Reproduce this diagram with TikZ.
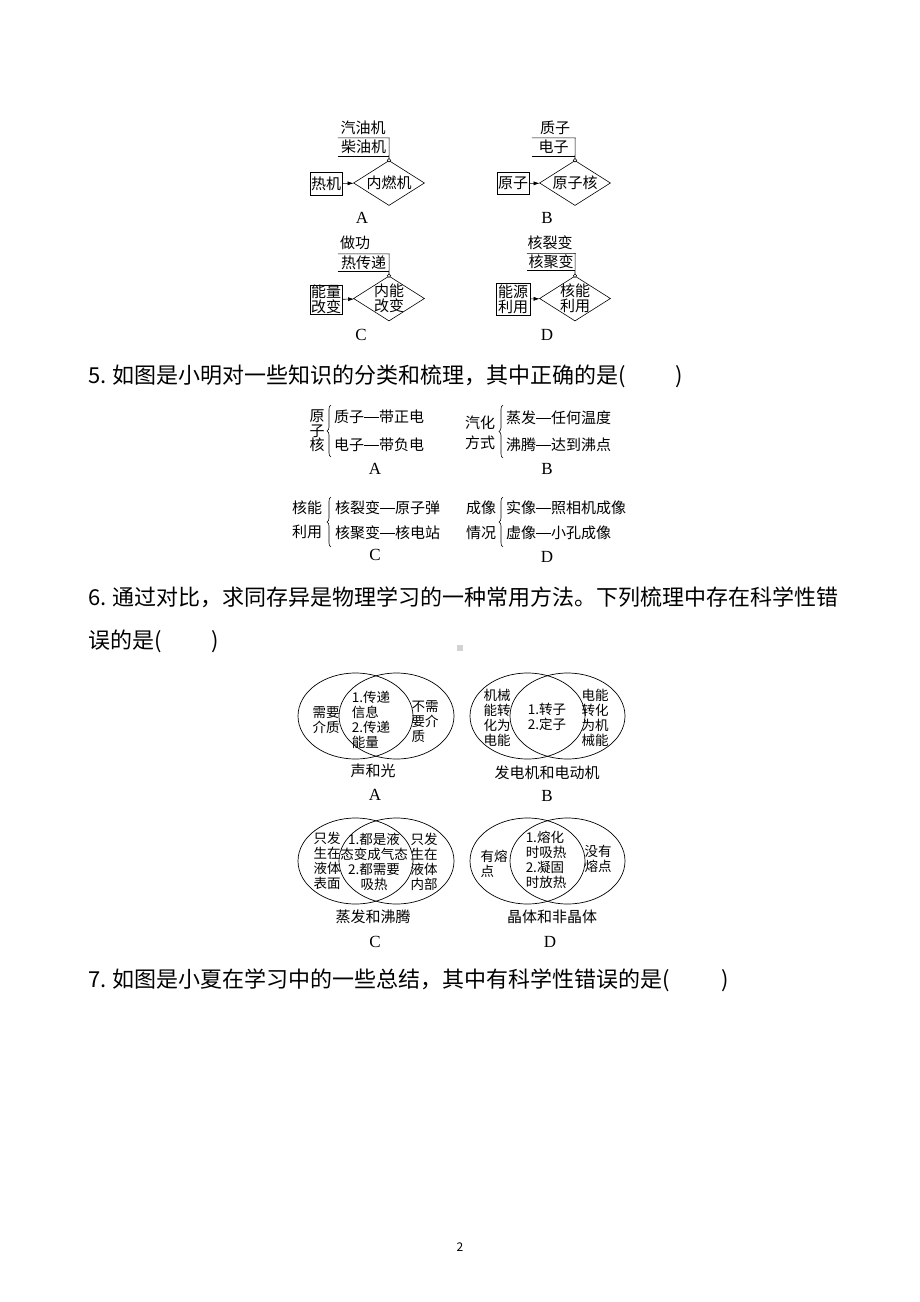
\documentclass[tikz,border=0pt]{standalone}
\usepackage{fontspec}
\setmainfont{Liberation Serif}
\newfontfamily\cjk{Noto Sans CJK SC}
\usepackage{tikz}
\usetikzlibrary{shapes,shapes.geometric}
\usetikzlibrary{decorations.pathreplacing}
\usetikzlibrary{arrows.meta}
\newcommand{\dashbar}{\rule[0.33em]{1em}{0.5pt}}

\begin{document}
\begin{tikzpicture}[x=1pt,y=-1pt,
	qtext/.style={anchor=west,inner sep=0,font=\cjk\fontsize{22}{22}\selectfont},
	small/.style={inner sep=0,align=center,font=\cjk\fontsize{15}{15}\selectfont},
	item/.style={anchor=west,inner sep=0,font=\cjk\fontsize{15}{15}\selectfont},
	vtext/.style={inner sep=0,font=\cjk\fontsize{13.5}{15}\selectfont},
	capt/.style={inner sep=0,font=\cjk\fontsize{15}{15}\selectfont},
	tag/.style={inner sep=0,font=\fontsize{17}{17}\selectfont},
	lbox/.style={draw,inner sep=0,line width=0.6pt,align=center,font=\cjk\fontsize{15}{15}\selectfont},
	dia/.style={draw,diamond,inner sep=0,minimum width=71,minimum height=45,line width=0.6pt},
	venn/.style={draw,ellipse,inner sep=0,minimum width=115,minimum height=86,line width=0.7pt},
	arr/.style={line width=0.6pt,-{Latex[length=6pt,width=4pt]}},
	brc/.style={decorate,decoration={brace,amplitude=4pt},line width=0.6pt}]
	\useasboundingbox (0,0) rectangle (920,1302);

	% top diagrams
	\node[small] (tA1) at (363,128) {汽油机};
	\node[small,minimum width=51,minimum height=18] (tA2) at (363.5,147) {柴油机};
	\node[dia] (dA) at (389,183) {};
	\node[small] (dAt) at (dA) {内燃机};
	\node[lbox,minimum width=32,minimum height=23] (bA) at (326,183.5) {热机};
	\draw[line width=0.6pt] (tA2.north west) -- (tA2.north east) -- (dA.north);
	\draw[line width=0.6pt] (tA2.south west) -- (tA2.south east);
	\draw[fill=white,line width=0.5pt] (dA.north) circle (1.8);
	\draw[arr] (bA) -- (dA);
	\node[tag] (cA) at (362,218) {A};

	\node[small] (tB1) at (555,128) {质子};
	\node[small,minimum width=43,minimum height=18] (tB2) at (553.5,147) {电子};
	\node[dia] (dB) at (575,183) {};
	\node[small] (dBt) at (dB) {原子核};
	\node[lbox,minimum width=32,minimum height=22] (bB) at (513,183.5) {原子};
	\draw[line width=0.6pt] (tB2.north west) -- (tB2.north east) -- (dB.north);
	\draw[line width=0.6pt] (tB2.south west) -- (tB2.south east);
	\draw[fill=white,line width=0.5pt] (dB.north) circle (1.8);
	\draw[arr] (bB) -- (dB);
	\node[tag] (cB) at (547,218) {B};

	\node[small] (tC1) at (355,243) {做功};
	\node[small,minimum width=51,minimum height=17] (tC2) at (363.5,262.5) {热传递};
	\node[dia] (dC) at (389,298.5) {};
	\node[small] (dCt) at (dC) {内能\\改变};
	\node[lbox,minimum width=32,minimum height=29] (bC) at (326,299.5) {能量\\改变};
	\draw[line width=0.6pt] (tC2.north west) -- (tC2.north east) -- (dC.north);
	\draw[line width=0.6pt] (tC2.south west) -- (tC2.south east);
	\draw[fill=white,line width=0.5pt] (dC.north) circle (1.8);
	\draw[arr] (bC) -- (dC);
	\node[tag] (cC) at (361,335) {C};

	\node[small] (tD1) at (550,243) {核裂变};
	\node[small,minimum width=48,minimum height=17] (tD2) at (551,262) {核聚变};
	\node[dia] (dD) at (575,298.5) {};
	\node[small] (dDt) at (dD) {核能\\利用};
	\node[lbox,minimum width=34,minimum height=32] (bD) at (513,299) {能源\\利用};
	\draw[line width=0.6pt] (tD2.north west) -- (tD2.north east) -- (dD.north);
	\draw[line width=0.6pt] (tD2.south west) -- (tD2.south east);
	\draw[fill=white,line width=0.5pt] (dD.north) circle (1.8);
	\draw[arr] (bD) -- (dD);
	\node[tag] (cD) at (547,335) {D};

	\node[qtext] (q5) at (88,376) {5.\hspace{6pt}如图是小明对一些知识的分类和梳理，其中正确的是(\hspace{50pt})};

	% braces
	\node[small,font=\cjk\fontsize{15}{14.5}\selectfont] (lA) at (317,431) {原\\子\\核};
	\node[item] (iA1) at (334,417) {质子\dashbar 带正电};
	\node[item] (iA2) at (334,445) {电子\dashbar 带负电};
	\draw[brc] (331,457) -- (331,405);
	\node[tag] (kA) at (375,469) {A};

	\node[small,font=\cjk\fontsize{15}{20}\selectfont] (lB) at (480,433) {汽化\\方式};
	\node[item] (iB1) at (506,418) {蒸发\dashbar 任何温度};
	\node[item] (iB2) at (506,445) {沸腾\dashbar 达到沸点};
	\draw[brc] (503,458) -- (503,405);
	\node[tag] (kB) at (547,469) {B};

	\node[small,font=\cjk\fontsize{15}{24}\selectfont] (lC) at (307,520) {核能\\利用};
	\node[item] (iC1) at (335,508) {核裂变\dashbar 原子弹};
	\node[item] (iC2) at (335,533) {核聚变\dashbar 核电站};
	\draw[brc] (331,547) -- (331,497);
	\node[tag] (kC) at (375,555) {C};

	\node[small,font=\cjk\fontsize{15}{25}\selectfont] (lD) at (481,520) {成像\\情况};
	\node[item] (iD1) at (506,508) {实像\dashbar 照相机成像};
	\node[item] (iD2) at (506,533) {虚像\dashbar 小孔成像};
	\draw[brc] (503,547) -- (503,497);
	\node[tag] (kD) at (547,557) {D};

	\node[qtext] (q6a) at (88,597) {6.\hspace{6pt}通过对比，求同存异是物理学习的一种常用方法。下列梳理中存在科学性错};
	\node[qtext] (q6b) at (88,641) {误的是(\hspace{50pt})};
	\fill[gray!35] (457,645) rectangle (463,651);

	% venn
	\node[venn] (vAl) at (355.5,716) {};
	\node[venn] (vAr) at (396.5,716) {};
	\node[vtext,align=center] (vA1) at (326,720) {需要\\介质};
	\node[vtext,align=left] (vA2) at (371,720) {1.传递\\信息\\2.传递\\能量};
	\node[vtext,align=left] (vA3) at (425,722) {不需\\要介\\质};
	\node[capt] (nA) at (373,771) {声和光};
	\node[tag] (mA) at (375,795) {A};

	\node[venn] (vBl) at (527.5,716) {};
	\node[venn] (vBr) at (567.5,716) {};
	\node[vtext,align=center] (vB1) at (497,718) {机械\\能转\\化为\\电能};
	\node[vtext,align=left] (vB2) at (547,717) {1.转子\\2.定子};
	\node[vtext,align=center] (vB3) at (595,718) {电能\\转化\\为机\\械能};
	\node[capt] (nB) at (547,773) {发电机和电动机};
	\node[tag] (mB) at (547,796) {B};

	\node[venn] (vCl) at (355.5,861) {};
	\node[venn] (vCr) at (396.5,861) {};
	\node[vtext,align=center] (vC1) at (327,861) {只发\\生在\\液体\\表面};
	\node[vtext,align=center] (vC2) at (374,862) {1.都是液\\态变成气态\\2.都需要\\吸热};
	\node[vtext,align=center] (vC3) at (424,862) {只发\\生在\\液体\\内部};
	\node[capt] (nC) at (373,917) {蒸发和沸腾};
	\node[tag] (mC) at (375,942) {C};

	\node[venn] (vDl) at (527.5,861) {};
	\node[venn] (vDr) at (567.5,861) {};
	\node[vtext,align=left] (vD1) at (494,864) {有熔\\点};
	\node[vtext,align=left] (vD2) at (546,860) {1.熔化\\时吸热\\2.凝固\\时放热};
	\node[vtext,align=center] (vD3) at (598,859) {没有\\熔点};
	\node[capt] (nD) at (552,917) {晶体和非晶体};
	\node[tag] (mD) at (550,942) {D};

	\node[qtext] (q7) at (88,980) {7.\hspace{6pt}如图是小夏在学习中的一些总结，其中有科学性错误的是(\hspace{52pt})};

	\node[inner sep=0,font=\cjk\fontsize{12}{12}\selectfont] (pg) at (460,1247) {2};
\end{tikzpicture}
\end{document}
